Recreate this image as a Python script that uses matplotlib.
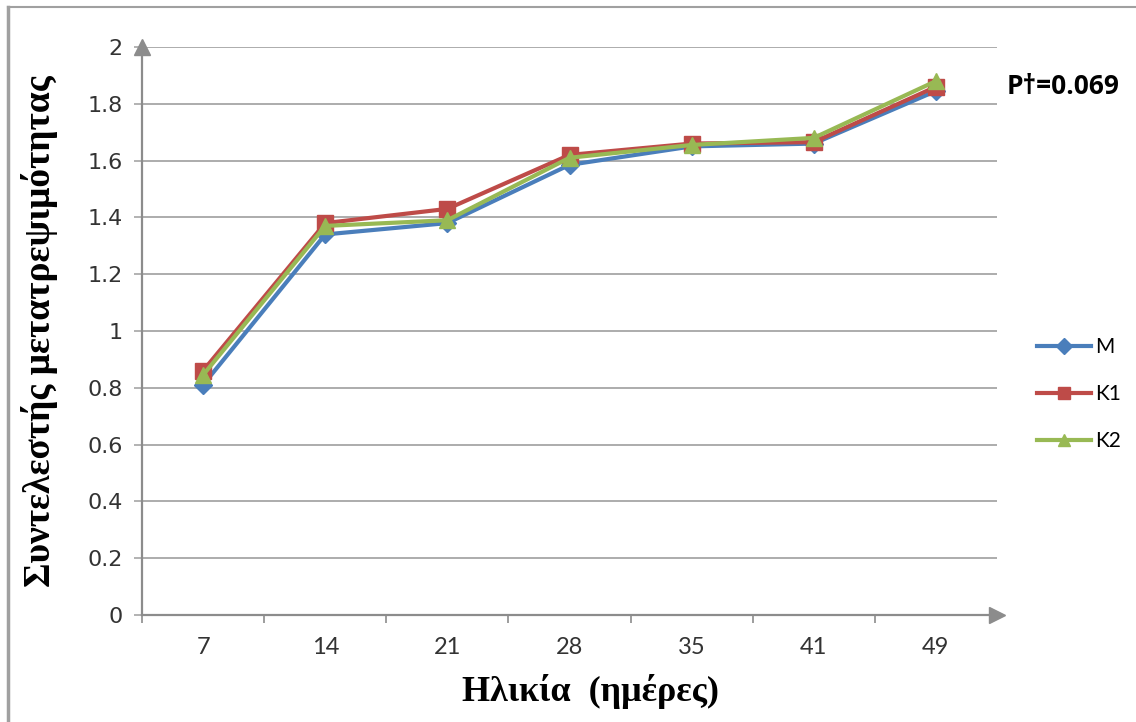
import matplotlib.pyplot as plt
from matplotlib.lines import Line2D

days = ["7", "14", "21", "28", "35", "41", "49"]
m_vals = [0.81, 1.34, 1.38, 1.585, 1.65, 1.66, 1.845]
k1_vals = [0.86, 1.38, 1.43, 1.62, 1.66, 1.665, 1.86]
k2_vals = [0.845, 1.37, 1.39, 1.61, 1.655, 1.68, 1.88]
yticks = [0, 0.2, 0.4, 0.6, 0.8, 1, 1.2, 1.4, 1.6, 1.8, 2]

blue = "#4a7ebb"
red = "#be4b48"
green = "#98b954"
axis_grey = "#8c8c8c"

fig = plt.figure(figsize=(11.36, 7.22), dpi=100)
ax = fig.add_axes([142 / 1136, 1 - 615 / 722, 855 / 1136, 568 / 722])

x = list(range(len(days)))
ax.plot(x, m_vals, color=blue, lw=3, marker="D", ms=9, label="M", zorder=3)
ax.plot(x, k1_vals, color=red, lw=3, marker="s", ms=12, label="K1", zorder=4)
ax.plot(x, k2_vals, color=green, lw=3, marker="^", ms=12, label="K2", zorder=5)

ax.set_xlim(-0.5, 6.5)
ax.set_ylim(0, 2)
ax.set_yticks(yticks)
ax.set_yticklabels(["0", "0.2", "0.4", "0.6", "0.8", "1", "1.2", "1.4", "1.6", "1.8", "2"],
                   family="DejaVu Sans", fontsize=16, color="#333333")
ax.set_xticks(x)
ax.set_xticklabels(days, family="Lato", fontsize=17, color="#333333")
ax.set_xticks([i + 0.5 for i in range(-1, 6)], minor=True)
ax.tick_params(axis="x", which="major", length=0, pad=16)
ax.tick_params(axis="x", which="minor", length=6, color=axis_grey, width=1.2)
ax.tick_params(axis="y", length=6, color="#a6a6a6", width=1.2, pad=8)

ax.grid(axis="y", color="#a6a6a6", lw=1.3, zorder=0)
ax.set_axisbelow(True)
for side in ["top", "right"]:
    ax.spines[side].set_visible(False)
for side in ["left", "bottom"]:
    ax.spines[side].set_color(axis_grey)
    ax.spines[side].set_linewidth(1.6)

# arrow heads on axes
ax.plot(0, 1, marker="^", ms=11, color=axis_grey, transform=ax.transAxes, clip_on=False)
ax.plot(1, 0, marker=">", ms=11, color=axis_grey, transform=ax.transAxes, clip_on=False)

ax.set_ylabel("Συντελεστής μετατρεψιμότητας", family="Liberation Serif",
              fontweight="bold", fontsize=27)
ax.yaxis.set_label_coords(-0.098, 0.5)
ax.set_xlabel("Ηλικία  (ημέρες)", family="Liberation Serif",
              fontweight="bold", fontsize=26)
ax.xaxis.set_label_coords(0.525, -0.103)

leg = ax.legend(loc="center left", bbox_to_anchor=(1.025, 0.389), frameon=False,
                handlelength=2.6, handletextpad=0.2, labelspacing=1.3,
                prop={"family": "Lato", "size": 15})
for h in leg.legend_handles:
    h.set_markersize(8)

fig.text(1007 / 1136, 1 - 87 / 722, "P\u2020=0.069", family="Open Sans",
         fontweight="bold", fontsize=19, va="center", ha="left")

# outer frame of the picture
fig.add_artist(Line2D([8 / 1136, 8 / 1136], [0, 1 - 7 / 722], transform=fig.transFigure,
                      color="#a0a0a0", lw=2.5))
fig.add_artist(Line2D([8 / 1136, 1], [1 - 7 / 722, 1 - 7 / 722], transform=fig.transFigure,
                      color="#a0a0a0", lw=1.5))

fig.savefig("out.png", dpi=100)
